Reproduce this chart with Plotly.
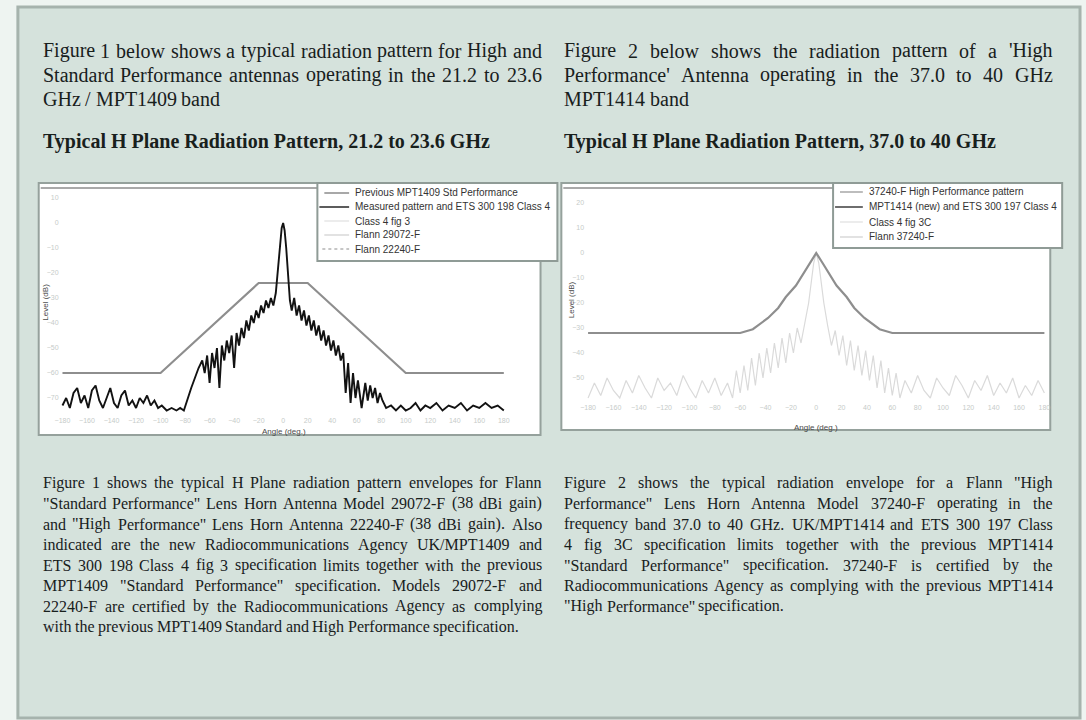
import plotly.graph_objects as go

W, H = 1086, 720

# ---------------- chart data ----------------
# 21.2 - 23.6 GHz band: measured H-plane pattern (angle in degrees, level in dB)
ang_23 = [
    -180, -177, -174, -171, -168, -165, -162, -159, -156, -153,
    -150, -147, -144, -141, -138, -135, -132, -129, -126, -123,
    -120, -117, -114, -111, -108, -105, -102, -99, -95, -91,
    -87, -84, -81, -78, -75, -72, -69, -66, -64, -62,
    -60, -58, -56, -54, -52, -50, -48, -46, -44, -42,
    -40, -38, -36, -34, -32, -30, -28, -26, -24, -22,
    -20, -18, -16, -14, -12, -10, -8, -6, -4, -2.5,
    -1.2, 0, 1.2, 2.5, 4, 5.5, 7, 9, 11, 13,
    15, 17, 19, 21, 23, 25, 27, 29, 31, 33,
    35, 37, 39, 41, 43, 45, 47, 49, 51, 53,
    55, 57, 59, 61, 64, 67, 69, 71, 73, 75,
    77, 79, 81, 84, 88, 92, 96, 100, 104, 108,
    112, 116, 120, 125, 130, 135, 140, 145, 150, 155,
    160, 165, 170, 175, 180]
lvl_23 = [
    -73, -70, -74, -68, -66, -72, -69, -74, -67, -65,
    -71, -74, -70, -66, -72, -74, -69, -67, -73, -71,
    -74, -70, -72, -69, -73, -71, -74, -73, -75, -74,
    -75, -74, -75, -70, -66, -62, -58, -55, -60, -53,
    -64, -52, -58, -50, -66, -49, -55, -47, -52, -45,
    -58, -44, -49, -42, -46, -39, -43, -37, -40, -35,
    -38, -33, -36, -31, -34, -30, -33, -28, -18, -8,
    -2, 0, -3, -10, -22, -31, -35, -30, -37, -33,
    -39, -35, -41, -37, -43, -39, -45, -41, -47, -43,
    -49, -45, -51, -47, -53, -49, -55, -52, -68, -56,
    -72, -60, -70, -63, -74, -64, -71, -65, -70, -66,
    -72, -68, -71, -74, -73, -75, -73, -75, -74, -72,
    -75, -73, -74, -72, -75, -73, -74, -72, -75, -73,
    -74, -72, -74, -73, -75]
# specification envelope, 21.2 - 23.6 GHz
env_23_ang = [-180, -100, -20, 20, 100, 180]
env_23_db = [-60, -60, -24, -24, -60, -60]

# 37.0 - 40 GHz band: measured H-plane pattern
ang_38 = [
    -180, -175, -170, -165, -160, -155, -150, -145, -140, -135,
    -130, -125, -120, -115, -110, -105, -100, -95, -90, -85,
    -80, -75, -70, -66, -63, -60, -57, -54, -51, -48,
    -45, -42, -39, -36, -33, -30, -27, -24, -21, -18,
    -15, -12, -9, -6, -4, -2, 0, 2, 4, 6,
    9, 12, 15, 18, 21, 24, 27, 30, 33, 36,
    39, 42, 45, 48, 51, 54, 57, 60, 63, 66,
    70, 75, 80, 85, 90, 95, 100, 105, 110, 115,
    120, 125, 130, 135, 140, 145, 150, 155, 160, 165,
    170, 175, 180]
lvl_38 = [
    -58, -52, -57, -50, -55, -58, -51, -56, -49, -54,
    -58, -50, -55, -52, -57, -49, -54, -58, -51, -56,
    -50, -57, -52, -58, -47, -56, -45, -55, -42, -53,
    -40, -50, -38, -48, -36, -46, -34, -44, -32, -40,
    -30, -36, -28, -20, -12, -4, 0, -4, -12, -20,
    -29, -37, -31, -41, -33, -45, -35, -47, -37, -49,
    -39, -51, -41, -54, -43, -56, -46, -57, -48, -58,
    -51, -56, -49, -55, -58, -50, -54, -57, -49, -53,
    -58, -51, -55, -49, -57, -52, -56, -50, -58, -53,
    -57, -51, -56]
# specification envelope, 37.0 - 40 GHz
env_38_ang = [-180, -60, -50, -38, -30, -24, -16, -10, -5, 0,
              5, 10, 16, 24, 30, 38, 50, 60, 180]
env_38_db = [-32, -32, -30.5, -26, -22, -17.6, -13, -8, -4, 0,
             -4, -8, -13, -17.6, -22, -26, -30.5, -32, -32]

deg_ticks = [-180, -160, -140, -120, -100, -80, -60, -40, -20, 0,
             20, 40, 60, 80, 100, 120, 140, 160, 180]
db_ticks_23 = [-70, -60, -50, -40, -30, -20, -10, 0, 10]
db_ticks_38 = [-50, -40, -30, -20, -10, 0, 10, 20]

legend_23 = ["Previous MPT1409 Std Performance",
             "Measured pattern and ETS 300 198 Class 4",
             "Class 4 fig 3",
             "Flann 29072-F",
             "Flann 22240-F"]
legend_38 = ["37240-F High Performance pattern",
             "MPT1414 (new) and ETS 300 197 Class 4",
             "Class 4 fig 3C",
             "Flann 37240-F"]

# ---------------- page text ----------------
intro_left = ["Figure 1 below shows a typical radiation pattern for High and",
              "Standard Performance antennas operating in the 21.2 to 23.6",
              "GHz / MPT1409 band"]
intro_right = ["Figure 2 below shows the radiation pattern of a 'High",
               "Performance' Antenna operating in the 37.0 to 40 GHz",
               "MPT1414 band"]
title_left = "Typical H Plane Radiation Pattern, 21.2 to 23.6 GHz"
title_right = "Typical H Plane Radiation Pattern, 37.0 to 40 GHz"
notes_left = [
    "Figure 1 shows the typical H Plane radiation pattern envelopes for Flann",
    "\"Standard Performance\" Lens Horn Antenna Model 29072-F (38 dBi gain)",
    "and \"High Performance\" Lens Horn Antenna 22240-F (38 dBi gain). Also",
    "indicated are the new Radiocommunications Agency UK/MPT1409 and",
    "ETS 300 198 Class 4 fig 3 specification limits together with the previous",
    "MPT1409 \"Standard Performance\" specification. Models 29072-F and",
    "22240-F are certified by the Radiocommunications Agency as complying",
    "with the previous MPT1409 Standard and High Performance specification."]
notes_right = [
    "Figure 2 shows the typical radiation envelope for a Flann \"High",
    "Performance\" Lens Horn Antenna Model 37240-F operating in the",
    "frequency band 37.0 to 40 GHz. UK/MPT1414 and ETS 300 197 Class",
    "4 fig 3C specification limits together with the previous MPT1414",
    "\"Standard Performance\" specification. 37240-F is certified by the",
    "Radiocommunications Agency as complying with the previous MPT1414",
    "\"High Performance\" specification."]

# ---------------- helpers ----------------
def px(x):
    return x / W


def py(y):
    return 1 - y / H


# Times advance widths (1/1000 em) used to justify the serif text
TIMES = {' ': 250, '!': 333, '"': 408, "'": 180, '(': 333, ')': 333, ',': 250,
         '-': 333, '.': 250, '/': 278, ':': 278, ';': 278, '?': 444,
         'A': 722, 'B': 667, 'C': 667, 'D': 722, 'E': 611, 'F': 556, 'G': 722,
         'H': 722, 'I': 333, 'J': 389, 'K': 722, 'L': 611, 'M': 889, 'N': 722,
         'O': 722, 'P': 556, 'Q': 722, 'R': 667, 'S': 556, 'T': 611, 'U': 722,
         'V': 722, 'W': 944, 'X': 722, 'Y': 722, 'Z': 611,
         'a': 444, 'b': 500, 'c': 444, 'd': 500, 'e': 444, 'f': 333, 'g': 500,
         'h': 500, 'i': 278, 'j': 278, 'k': 500, 'l': 278, 'm': 778, 'n': 500,
         'o': 500, 'p': 500, 'q': 500, 'r': 333, 's': 389, 't': 278, 'u': 500,
         'v': 500, 'w': 722, 'x': 500, 'y': 500, 'z': 444}


def text_width(s, size):
    return sum(TIMES.get(c, 500) for c in s) * size / 1000.0


SERIF = "Liberation Serif, Times New Roman, serif"
SANS = "Liberation Sans, Arial, sans-serif"
INK = "#18201c"

annotations = []


def paragraph(lines, x0, x1, y0, dy, size):
    """Justified block of text: every line but the last spans x0..x1."""
    for i, line in enumerate(lines):
        words = line.split(' ')
        widths = [text_width(w, size) for w in words]
        last = i == len(lines) - 1
        if not last and len(words) > 1:
            gap = (x1 - x0 - sum(widths)) / (len(words) - 1)
        else:
            gap = 0.25 * size
        x = x0
        for w, wd in zip(words, widths):
            annotations.append(dict(
                x=px(x), y=py(y0 + i * dy), xref='paper', yref='paper',
                text=w, showarrow=False, xanchor='left', yanchor='middle',
                borderpad=0, font=dict(family=SERIF, size=size, color=INK)))
            x += wd + gap


def label(x, y, text, size, color=INK, family=SANS, bold=False, angle=0,
          xanchor='left'):
    annotations.append(dict(
        x=px(x), y=py(y), xref='paper', yref='paper', text=text,
        showarrow=False, xanchor=xanchor, yanchor='middle', textangle=angle,
        borderpad=0,
        font=dict(family=family, size=size, color=color,
                  weight='bold' if bold else 'normal')))


# ---------------- figure ----------------
fig = go.Figure()

fig.add_trace(go.Scatter(x=env_23_ang, y=env_23_db, xaxis='x', yaxis='y',
                         mode='lines', name=legend_23[0],
                         line=dict(color='#8e8e8e', width=2.2)))
fig.add_trace(go.Scatter(x=ang_23, y=lvl_23, xaxis='x', yaxis='y',
                         mode='lines', name=legend_23[1],
                         line=dict(color='#121212', width=1.9)))
fig.add_trace(go.Scatter(x=ang_38, y=lvl_38, xaxis='x2', yaxis='y2',
                         mode='lines', name=legend_38[0],
                         line=dict(color='#dadada', width=1.2)))
fig.add_trace(go.Scatter(x=env_38_ang, y=env_38_db, xaxis='x2', yaxis='y2',
                         mode='lines', name=legend_38[1],
                         line=dict(color='#8e8e8e', width=2.2)))

axis_base = dict(showgrid=False, zeroline=False, showline=False, ticks='',
                 fixedrange=True)
tick_font = dict(family=SANS, size=7, color='#c6cbc9')

shapes = []

# page panel with its border
shapes.append(dict(type='rect', xref='paper', yref='paper', layer='below',
                   x0=px(13), x1=px(1084), y0=py(718), y1=py(7),
                   fillcolor='#d5e2dc', line=dict(color='#a6b3ad', width=3)))

# chart frames
for (x0, x1, y0, y1) in [(34, 540, 183, 435), (561, 1054, 183, 430)]:
    shapes.append(dict(type='rect', xref='paper', yref='paper', layer='below',
                       x0=px(x0), x1=px(x1), y0=py(y1), y1=py(y0),
                       fillcolor='#ffffff', line=dict(color='#95a19c', width=2)))
    shapes.append(dict(type='line', xref='paper', yref='paper', layer='below',
                       x0=px(x0 + 2), x1=px(x1 - 2), y0=py(188), y1=py(188),
                       line=dict(color='#a9a9a9', width=2)))


def legend_box(x0, x1, y0, y1, rows, entries, samples, text_x):
    shapes.append(dict(type='rect', xref='paper', yref='paper', layer='above',
                       x0=px(x0), x1=px(x1), y0=py(y1), y1=py(y0),
                       fillcolor='#ffffff', line=dict(color='#8f9b96', width=2)))
    for yy, name, smp in zip(rows, entries, samples):
        sx0, sx1, color, dash = smp
        shapes.append(dict(type='line', xref='paper', yref='paper',
                           layer='above', x0=px(sx0), x1=px(sx1),
                           y0=py(yy), y1=py(yy),
                           line=dict(color=color, width=2, dash=dash)))
        label(text_x, yy, name, 10, color='#333333')


legend_box(315, 557, 183, 261, [193, 207, 221, 235, 249], legend_23,
           [(322, 347, '#a8a8a8', 'solid'), (317, 347, '#5c5c5c', 'solid'),
            (322, 347, '#ececec', 'solid'), (322, 347, '#e2e2e2', 'solid'),
            (320, 347, '#c6c6c6', 'dot')], 352)
legend_box(835, 1066, 183, 248, [192, 207, 222, 237], legend_38,
           [(842, 865, '#bdbdbd', 'solid'), (837, 865, '#6e6e6e', 'solid'),
            (842, 865, '#ececec', 'solid'), (842, 865, '#e2e2e2', 'solid')], 870)

# axis titles
label(281, 431, "Angle (deg.)", 8, color='#4a4a4a', xanchor='center')
label(818, 427, "Angle (deg.)", 8, color='#4a4a4a', xanchor='center')
label(40, 302, "Level (dB)", 8, color='#4a4a4a', angle=-90, xanchor='center')
label(571, 300, "Level (dB)", 8, color='#4a4a4a', angle=-90, xanchor='center')

# page text
paragraph(intro_left, 37, 540, 51, 24, 20)
paragraph(intro_right, 563, 1055, 51, 24, 20)
label(37, 142, title_left, 20, family=SERIF, bold=True)
label(563, 142, title_right, 20, family=SERIF, bold=True)
paragraph(notes_left, 37, 540, 483, 20.5, 16)
paragraph(notes_right, 563, 1055, 483, 20.5, 16)

fig.update_layout(
    width=W, height=H, margin=dict(l=0, r=0, t=0, b=0),
    paper_bgcolor='#eef4f1', plot_bgcolor='rgba(0,0,0,0)', showlegend=False,
    xaxis=dict(domain=[px(55), px(535)], range=[-182.4, 205.9], anchor='y',
               tickvals=deg_ticks, tickfont=tick_font, **axis_base),
    yaxis=dict(domain=[py(415), py(190)], range=[-76.8, 13.2], anchor='x',
               tickvals=db_ticks_23, tickfont=tick_font, **axis_base),
    xaxis2=dict(domain=[px(585), px(1050)], range=[-182.3, 181.5], anchor='y2',
                tickvals=deg_ticks, tickfont=tick_font, **axis_base),
    yaxis2=dict(domain=[py(402), py(190)], range=[-59.6, 25.2], anchor='x2',
                tickvals=db_ticks_38, tickfont=tick_font, **axis_base),
    shapes=shapes, annotations=annotations,
)

fig.write_html("out.html")
